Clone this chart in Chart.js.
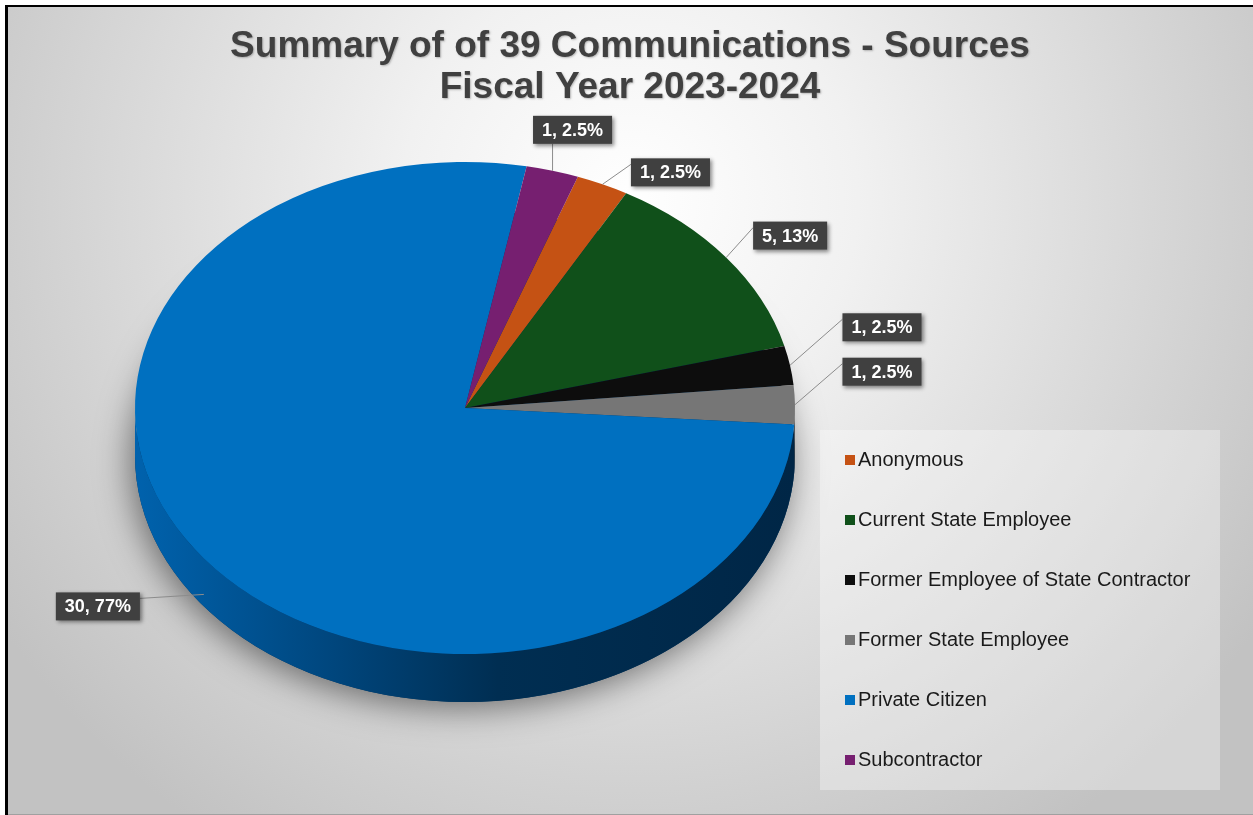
<!DOCTYPE html>
<html>
<head>
<meta charset="utf-8">
<script src="https://cdn.jsdelivr.net/npm/chart.js@4.4.1/dist/chart.umd.min.js"></script>
<style>
  html, body { margin: 0; padding: 0; background: #fff; }
  #wrap { position: relative; width: 1253px; height: 815px; }
</style>
</head>
<body>
<div id="wrap"><canvas id="pie" width="1253" height="815"></canvas></div>
<script>
// ---- data ----
const categories = ['Anonymous', 'Current State Employee', 'Former Employee of State Contractor',
                    'Former State Employee', 'Private Citizen', 'Subcontractor'];
const counts = [1, 5, 1, 1, 30, 1];
const percentLabels = ['2.5%', '13%', '2.5%', '2.5%', '77%', '2.5%'];
const titleLines = ['Summary of of 39 Communications - Sources', 'Fiscal Year 2023-2024'];

// ---- styles ----
const sliceColors = ['#c55214', '#10501a', '#0d0d0d', '#767676', '#0070c0', '#761f70'];
const sideColors  = ['#7a3008', '#08300e', '#000000', '#454545', '#003560', '#45103f'];
const TILT = 246 / 330;   // vertical squash of the pie
const DEPTH = 48;         // thickness of the pie edge in px
const FONT = '"Liberation Sans", Arial, sans-serif';

// label box placement relative to each slice's edge point
const labelNudge = [[68, -12], [64, -22], [92, -38], [87, -33], [-106, 12], [20, -41]];

function squash(chart) {
    const a = chart.getDatasetMeta(0).data[0];
    const ctx = chart.ctx;
    ctx.translate(a.x, a.y);
    ctx.scale(1, TILT);
    ctx.translate(-a.x, -a.y);
}

// front-facing part [0, PI] of an arc
function frontParts(s, e) {
    const out = [];
    for (let n = -2; n <= 2; n++) {
        const lo = Math.max(s, n * 2 * Math.PI), hi = Math.min(e, n * 2 * Math.PI + Math.PI);
        if (hi > lo) out.push([lo, hi]);
    }
    return out;
}

const backdrop = {
    id: 'backdrop',
    beforeDraw(chart) {
        const ctx = chart.ctx;
        ctx.save();
        ctx.fillStyle = '#fff';
        ctx.fillRect(0, 0, chart.width, chart.height);
        const g = ctx.createRadialGradient(630, 200, 0, 630, 200, 760);
        g.addColorStop(0, '#ffffff');
        g.addColorStop(0.3, '#f1f1f1');
        g.addColorStop(1, '#c2c2c2');
        ctx.fillStyle = g;
        ctx.fillRect(8, 7, chart.width - 8, chart.height - 8);
        ctx.fillStyle = '#000';
        ctx.fillRect(5, 5, chart.width - 5, 2);
        ctx.fillRect(5, 5, 3, chart.height - 5);
        ctx.fillStyle = '#a0a0a0';
        ctx.fillRect(8, chart.height - 1, chart.width - 8, 1);

        // title
        ctx.fillStyle = '#404040';
        ctx.font = 'bold 37px ' + FONT;
        ctx.textAlign = 'center';
        ctx.textBaseline = 'alphabetic';
        ctx.shadowColor = 'rgba(0,0,0,0.25)';
        ctx.shadowBlur = 2;
        ctx.shadowOffsetX = 1;
        ctx.shadowOffsetY = 1;
        ctx.fillText(titleLines[0], 630, 57);
        ctx.fillText(titleLines[1], 630, 98);
        ctx.restore();
    }
};

const pieDepth = {
    id: 'pieDepth',
    beforeDatasetsDraw(chart) {
        const ctx = chart.ctx;
        const arcs = chart.getDatasetMeta(0).data;
        const a0 = arcs[0];
        ctx.save();
        squash(chart);
        const off = DEPTH / TILT;
        // soft shadow under the pie
        ctx.save();
        ctx.shadowColor = 'rgba(0,0,0,0.5)';
        ctx.shadowBlur = 34;
        ctx.shadowOffsetX = -4;
        ctx.shadowOffsetY = 6;
        ctx.fillStyle = '#003560';
        ctx.beginPath();
        ctx.arc(a0.x, a0.y + off, a0.outerRadius, 0, Math.PI * 2);
        ctx.fill();
        ctx.restore();
        // edges
        arcs.forEach((arc, i) => {
            frontParts(arc.startAngle, arc.endAngle).forEach(([s, e]) => {
                let fill = sideColors[i];
                if (i === 4) {
                    const g = ctx.createLinearGradient(arc.x - arc.outerRadius, 0, arc.x + arc.outerRadius, 0);
                    g.addColorStop(0, '#0062ad');
                    g.addColorStop(0.3, '#00467d');
                    g.addColorStop(0.55, '#002e52');
                    g.addColorStop(1, '#002646');
                    fill = g;
                }
                ctx.fillStyle = fill;
                ctx.beginPath();
                ctx.arc(arc.x, arc.y, arc.outerRadius, s, e);
                ctx.arc(arc.x, arc.y + off, arc.outerRadius, e, s, true);
                ctx.closePath();
                ctx.fill();
            });
        });
        // squash stays on while the top faces are drawn
    },
    afterDatasetsDraw(chart) {
        chart.ctx.restore();
    }
};

const sliceLabels = {
    id: 'sliceLabels',
    afterDraw(chart) {
        const ctx = chart.ctx;
        const arcs = chart.getDatasetMeta(0).data;
        ctx.save();
        ctx.font = 'bold 18px ' + FONT;
        ctx.textBaseline = 'middle';
        ctx.textAlign = 'center';
        arcs.forEach((arc, i) => {
            const mid = (arc.startAngle + arc.endAngle) / 2;
            const ax = arc.x + arc.outerRadius * Math.cos(mid);
            let ay = arc.y + arc.outerRadius * TILT * Math.sin(mid);
            if (Math.sin(mid) > 0.3) ay += DEPTH * 0.75;
            const text = counts[i] + ', ' + percentLabels[i];
            const w = ctx.measureText(text).width + 18, h = 28;
            const cx = ax + labelNudge[i][0], cy = ay + labelNudge[i][1];
            const L = cx - w / 2, T = cy - h / 2;
            // leader line
            let px, py;
            if (ay > T + h && ax > L && ax < L + w) { px = Math.max(L + 10, Math.min(ax, L + w - 10)); py = T + h; }
            else { px = ax > cx ? L + w : L; py = T + 6; }
            ctx.strokeStyle = '#8c8c8c';
            ctx.lineWidth = 1;
            ctx.beginPath();
            ctx.moveTo(ax, ay);
            ctx.lineTo(px, py);
            ctx.stroke();
            // box
            ctx.save();
            ctx.shadowColor = 'rgba(0,0,0,0.45)';
            ctx.shadowBlur = 4;
            ctx.shadowOffsetX = 2;
            ctx.shadowOffsetY = 2;
            ctx.fillStyle = '#404040';
            ctx.fillRect(L, T, w, h);
            ctx.restore();
            ctx.fillStyle = '#ffffff';
            ctx.fillText(text, cx, cy + 1);
        });
        ctx.restore();
    }
};

const sideLegend = {
    id: 'sideLegend',
    afterDraw(chart) {
        const ctx = chart.ctx;
        ctx.save();
        ctx.fillStyle = 'rgba(255,255,255,0.32)';
        ctx.fillRect(820, 430, 400, 360);
        ctx.font = '20px ' + FONT;
        ctx.textBaseline = 'middle';
        ctx.textAlign = 'left';
        chart.data.labels.forEach((lab, i) => {
            const y = 459 + i * 60;
            ctx.fillStyle = chart.data.datasets[0].backgroundColor[i];
            ctx.fillRect(845, y - 4, 10, 10);
            ctx.fillStyle = '#1a1a1a';
            ctx.fillText(lab, 858, y + 1);
        });
        ctx.restore();
    }
};

new Chart(document.getElementById('pie'), {
    type: 'pie',
    data: {
        labels: categories,
        datasets: [{ data: counts, backgroundColor: sliceColors, borderWidth: 0 }]
    },
    options: {
        responsive: false,
        devicePixelRatio: 1,
        animation: false,
        rotation: 20,
        layout: { padding: { left: 135, right: 458, top: 78, bottom: 77 } },
        plugins: { legend: { display: false }, tooltip: { enabled: false }, title: { display: false } }
    },
    plugins: [backdrop, pieDepth, sliceLabels, sideLegend]
});
</script>
</body>
</html>
